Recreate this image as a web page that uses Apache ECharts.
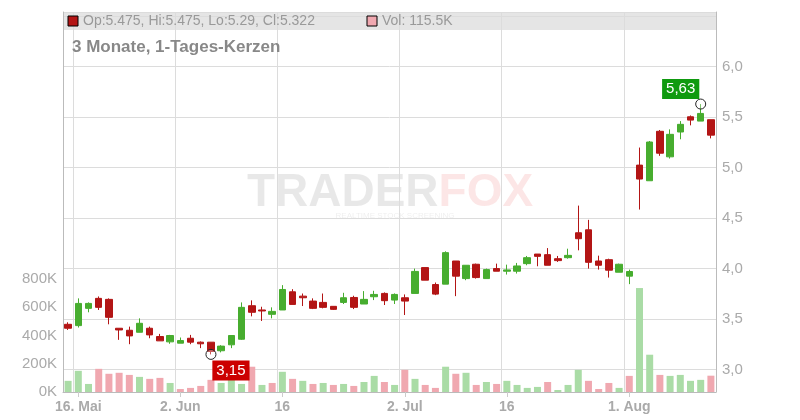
<!DOCTYPE html>
<html><head><meta charset="utf-8">
<script src="https://cdn.jsdelivr.net/npm/echarts@6/dist/echarts.min.js"></script>
<style>html,body{margin:0;padding:0;background:#fff}#c{width:800px;height:420px}</style>
</head><body><div id="c"></div>
<script>
const dates = ["15.05","16.05","19.05","20.05","21.05","22.05","23.05","26.05","27.05","28.05","30.05",
"02.06","03.06","04.06","05.06","06.06","09.06","10.06","11.06","12.06","13.06","16.06","17.06","18.06","19.06","20.06","23.06","24.06","25.06","26.06","27.06","30.06","01.07",
"02.07","03.07","04.07","07.07","08.07","09.07","10.07","11.07","14.07","15.07","16.07","17.07","18.07","21.07","22.07","23.07","24.07","25.07","28.07","29.07","30.07","31.07",
"01.08","04.08","05.08","06.08","07.08","08.08","11.08","12.08","13.08"];
const tickLabels = {"16.05":"16. Mai","02.06":"2. Jun","16.06":"16","02.07":"2. Jul","16.07":"16","01.08":"1. Aug"};
// [open, close, low, high]
const ohlc = [
[3.448,3.409,3.392,3.468],[3.435,3.655,3.416,3.705],[3.606,3.655,3.567,3.665],[3.705,3.616,3.590,3.724],
[3.695,3.517,3.448,3.705],[3.409,3.392,3.294,3.409],[3.389,3.333,3.251,3.425],[3.369,3.458,3.369,3.507],
[3.409,3.343,3.310,3.425],[3.327,3.284,3.284,3.353],[3.274,3.337,3.255,3.343],[3.261,3.287,3.261,3.317],
[3.310,3.271,3.251,3.343],[3.271,3.255,3.212,3.278],[3.271,3.179,3.150,3.271],[3.186,3.232,3.170,3.241],
[3.245,3.337,3.212,3.337],[3.300,3.616,3.294,3.665],[3.632,3.567,3.527,3.685],[3.590,3.580,3.481,3.622],
[3.547,3.576,3.507,3.616],[3.590,3.793,3.590,3.836],[3.770,3.645,3.645,3.796],[3.727,3.711,3.629,3.753],
[3.678,3.606,3.599,3.705],[3.665,3.616,3.606,3.753],[3.626,3.596,3.590,3.626],[3.665,3.711,3.649,3.760],
[3.714,3.616,3.599,3.731],[3.649,3.695,3.649,3.777],[3.721,3.744,3.688,3.780],[3.754,3.682,3.639,3.764],
[3.688,3.744,3.649,3.754],[3.711,3.678,3.540,3.744],[3.754,3.972,3.754,4.000],[4.010,3.885,3.885,4.010],
[3.842,3.747,3.737,3.862],[3.846,4.158,3.846,4.171],[4.075,3.925,3.727,4.075],[3.901,4.033,3.885,4.033],
[4.043,3.911,3.901,4.049],[3.901,3.990,3.901,4.000],[4.000,3.974,3.974,4.049],[3.974,3.987,3.941,4.039],
[3.974,4.026,3.951,4.056],[4.049,4.108,4.033,4.125],[4.144,4.121,4.023,4.144],[4.138,4.033,4.033,4.203],
[4.098,4.079,4.066,4.125],[4.108,4.131,4.098,4.197],[4.355,4.296,4.181,4.624],[4.384,4.062,4.000,4.483],
[4.075,4.033,3.990,4.128],[4.088,3.984,3.911,4.098],[3.964,4.043,3.964,4.049],[3.925,3.971,3.846,3.990],
[5.025,4.887,4.585,5.199],[4.870,5.254,4.870,5.264],[5.360,5.143,5.117,5.373],[5.107,5.330,5.090,5.379],
[5.353,5.429,5.281,5.461],[5.504,5.471,5.419,5.517],[5.461,5.537,5.461,5.630],[5.475,5.322,5.290,5.475]];
const volumesK = [79,150,57,164,129,136,121,107,93,100,64,21,29,43,86,64,86,57,179,50,64,143,93,79,57,64,50,57,43,71,114,71,50,157,
93,50,29,179,129,136,50,71,57,79,50,29,36,71,14,50,157,79,21,64,29,114,736,264,121,114,121,79,86,115.5];
const priceTicks = [3.0,3.5,4.0,4.5,5.0,5.5,6.0];
const volTicksK = [0,200,400,600,800];

const RED='#b31515', GREEN='#47ad2f', PINK='#f0a8b0', LGREEN='#aadca6';
const volData = volumesK.map((v,i)=>({value:v*1000,itemStyle:{color:(i===0||ohlc[i][1]>=ohlc[i-1][1])?LGREEN:PINK}}));
const tickIdx = dates.map((d,i)=>tickLabels[d]?i:-1).filter(i=>i>=0);
const isTick = (i)=>tickIdx.indexOf(i)>=0;
const volMaxScale = 800000*380/113;
const lowIdx = 14, highIdx = 62;

const chart = echarts.init(document.getElementById('c'));
chart.setOption({
  animation:false,
  textStyle:{fontFamily:'Liberation Sans, Arial, sans-serif'},
  graphic:[
    {type:'rect',z:-10,shape:{x:63,y:12,width:653,height:18},style:{fill:'#e5e5e5'}},
    {type:'rect',z:10,shape:{x:68,y:16,width:10,height:10},style:{fill:RED,stroke:'#000',lineWidth:1}},
    {type:'text',z:10,x:83,y:21,style:{text:'Op:5.475, Hi:5.475, Lo:5.29, Cl:5.322',fill:'#999',fontSize:14,verticalAlign:'middle',fontFamily:'Liberation Sans'}},
    {type:'rect',z:10,shape:{x:367,y:16,width:10,height:10},style:{fill:PINK,stroke:'#000',lineWidth:1}},
    {type:'text',z:10,x:382,y:21,style:{text:'Vol: 115.5K',fill:'#999',fontSize:14,verticalAlign:'middle',fontFamily:'Liberation Sans'}},
    {type:'text',z:10,x:72,y:47,style:{text:'3 Monate, 1-Tages-Kerzen',fill:'#888',fontSize:17,fontWeight:'bold',verticalAlign:'middle',fontFamily:'Liberation Sans'}},
    {type:'text',z:-5,x:390,y:193,style:{text:'{a|TRADER}{b|FOX}',align:'center',verticalAlign:'middle',
      rich:{a:{fontSize:46,fontWeight:'bold',fill:'rgba(0,0,0,0.09)',fontFamily:'Liberation Sans'},b:{fontSize:46,fontWeight:'bold',fill:'rgba(230,60,60,0.13)',fontFamily:'Liberation Sans'}}}},
    {type:'text',z:-5,x:395,y:216,style:{text:'REALTIME STOCK SCREENING',align:'center',verticalAlign:'middle',fill:'rgba(0,0,0,0.07)',fontSize:8,fontFamily:'Liberation Sans'}}
  ],
  grid:[
    {left:63,right:84,top:12,height:430.75},
    {left:63,right:84,top:12,bottom:28}
  ],
  xAxis:[
    {type:'category',gridIndex:0,data:dates,show:false,boundaryGap:true},
    {type:'category',gridIndex:1,data:dates,boundaryGap:true,
      axisLine:{lineStyle:{color:'#bbb'}},
      axisTick:{show:true,alignWithLabel:true,interval:(i)=>isTick(i),lineStyle:{color:'#ccc'}},
      splitLine:{show:true,interval:(i)=>isTick(i),lineStyle:{color:'#dcdcdc'}},
      axisLabel:{interval:(i)=>isTick(i),formatter:(v)=>tickLabels[v]||'',color:'#aaa',fontSize:14,fontWeight:'bold',margin:8}}
  ],
  yAxis:[
    {type:'value',gridIndex:0,position:'right',min:2.5,max:6+55/101.5,interval:0.5,
      axisLine:{show:false},axisTick:{show:false},
      splitLine:{lineStyle:{color:'#dcdcdc'}},
      axisLabel:{showMaxLabel:false,color:'#aaa',fontSize:15,margin:6,formatter:(v)=>priceTicks.indexOf(+v.toFixed(1))>=0?v.toFixed(1).replace('.',','):''}},
    {type:'value',gridIndex:1,position:'left',min:0,max:volMaxScale,interval:200000,
      axisLine:{show:true,lineStyle:{color:'#bbb'}},axisTick:{show:false},splitLine:{show:false},
      axisLabel:{showMaxLabel:false,color:'#aaa',fontSize:15,margin:6,formatter:(v)=>{const k=Math.round(v/1000);return volTicksK.indexOf(k)>=0?k+'K':'';}}},
    {type:'value',gridIndex:1,position:'right',min:0,max:1,
      axisLine:{show:true,lineStyle:{color:'#bbb'}},axisTick:{show:false},splitLine:{show:false},axisLabel:{show:false}}
  ],
  series:[
    {type:'bar',xAxisIndex:1,yAxisIndex:1,data:volData,barWidth:7,z:1},
    {type:'candlestick',xAxisIndex:0,yAxisIndex:0,data:ohlc,barWidth:7,z:3,
      itemStyle:{color:GREEN,color0:RED,borderColor:GREEN,borderColor0:RED,borderWidth:1},
      markPoint:{symbol:'circle',symbolSize:10,itemStyle:{color:'rgba(255,255,255,0.3)',borderColor:'#222',borderWidth:1},
        data:[
          {coord:[lowIdx,ohlc[lowIdx][2]],label:{show:true,formatter:'3,15',position:'inside',offset:[20,16],color:'#fff',backgroundColor:'#cc0000',padding:[3,4,2,4],fontSize:15}},
          {coord:[highIdx,ohlc[highIdx][3]],label:{show:true,formatter:'5,63',position:'inside',offset:[-20,-15],color:'#fff',backgroundColor:'#0f9a0f',padding:[3,4,2,4],fontSize:15}}
        ]}}
  ]
});
</script></body></html>
